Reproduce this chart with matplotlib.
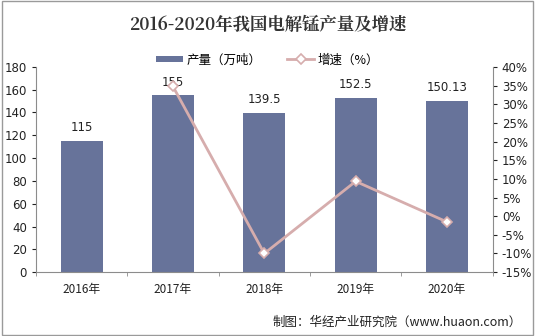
import numpy as np
import matplotlib
matplotlib.use('Agg')
import matplotlib.pyplot as plt
from matplotlib.patches import Rectangle

plt.rcParams['font.family'] = ['Noto Sans CJK SC', 'DejaVu Sans']

years = ['2016年', '2017年', '2018年', '2019年', '2020年']
output = [115, 155, 139.5, 152.5, 150.13]
output_labels = ['115', '155', '139.5', '152.5', '150.13']
growth_years = [1, 2, 3, 4]
growth = [34.78, -10.0, 9.32, -1.55]

bar_color = '#67739a'
line_color = '#d6adad'
axis_color = '#8c8c8c'

fig = plt.figure(figsize=(5.35, 3.36), dpi=100)
fig.patches.append(Rectangle((0.004, 0.004), 0.992, 0.992, transform=fig.transFigure,
                             fill=False, edgecolor='#9a9a9a', linewidth=1.0))
ax = fig.add_axes([0.067, 0.19, 0.854, 0.611])
x = np.arange(len(years))
bars = ax.bar(x, output, width=0.46, color=bar_color, label='产量（万吨）', zorder=2)
for xi, v, s in zip(x, output, output_labels):
    ax.text(xi, v + 6, s, ha='center', va='bottom', fontsize=8.5, color='#222222',
            family='DejaVu Sans')

ax.set_ylim(0, 180)
ax.set_yticks(np.arange(0, 181, 20))
ax.set_xlim(-0.5, 4.5)
ax.set_xticks(x)
ax.set_xticks(np.arange(-0.5, 4.6, 1), minor=True)
ax.set_xticklabels(years, fontsize=8.5)
ax.tick_params(axis='y', labelsize=8.5, colors='#222222', length=3)
ax.tick_params(axis='x', which='major', length=0, pad=8, colors='#222222')
ax.tick_params(axis='x', which='minor', length=3, color=axis_color)
for sp in ['left', 'bottom']:
    ax.spines[sp].set_color(axis_color)
ax.spines['top'].set_visible(False)
ax.spines['right'].set_visible(False)
for t in ax.get_yticklabels():
    t.set_family('DejaVu Sans')

ax2 = ax.twinx()
ln, = ax2.plot(growth_years, growth, color=line_color, linewidth=2.0, marker='D',
               markersize=5, markerfacecolor='white', markeredgecolor=line_color,
               markeredgewidth=1.2, label='增速（%）', zorder=3)
ax2.set_ylim(-15, 40)
ax2.set_yticks(np.arange(-15, 41, 5))
ax2.set_yticklabels(['%d%%' % v for v in range(-15, 41, 5)], family='DejaVu Sans')
ax2.tick_params(axis='y', labelsize=8.5, colors='#222222', length=3)
ax2.spines['right'].set_color(axis_color)
ax2.spines['top'].set_visible(False)
ax2.spines['left'].set_visible(False)
ax2.spines['bottom'].set_visible(False)

fig.legend(handles=[bars, ln], loc='center', bbox_to_anchor=(0.5, 0.822), ncol=2,
           frameon=False, fontsize=9, handlelength=2.2, handleheight=0.4,
           columnspacing=2.0, handletextpad=0.3)

fig.text(0.5, 0.925, '2016-2020年我国电解锰产量及增速', ha='center', va='center',
         fontsize=12.5, fontweight='bold', color='#333333',
         family=['Noto Serif CJK SC', 'Noto Sans CJK SC', 'DejaVu Sans'])
fig.text(0.975, 0.04, '制图：华经产业研究院（www.huaon.com）', ha='right', va='center',
         fontsize=9, color='#222222')

fig.savefig('out.png', dpi=100)
